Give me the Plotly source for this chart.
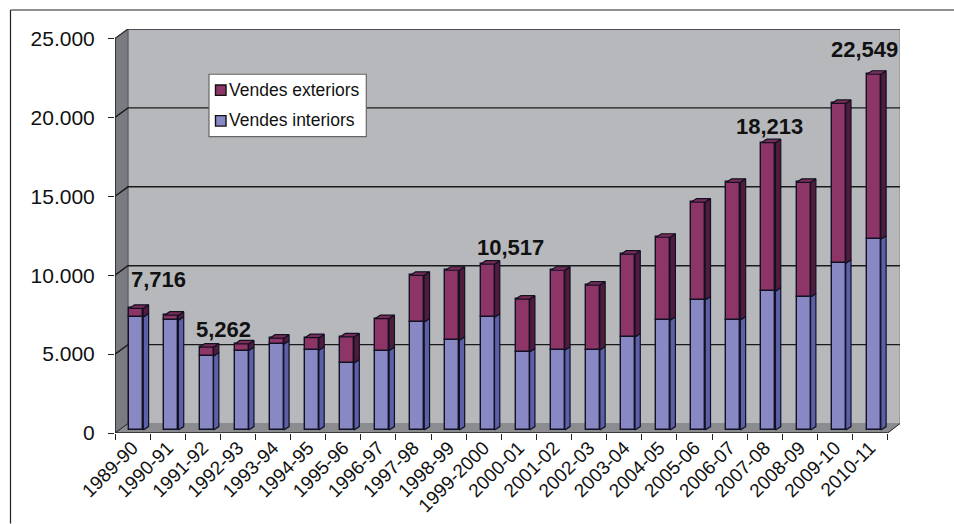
import plotly.graph_objects as go

# ---- data ----
categories = ["1989-90","1990-91","1991-92","1992-93","1993-94","1994-95","1995-96","1996-97",
              "1997-98","1998-99","1999-2000","2000-01","2001-02","2002-03","2003-04","2004-05",
              "2005-06","2006-07","2007-08","2008-09","2009-10","2010-11"]
interiors = [7160,6965,4700,5040,5445,5065,4260,5040,6850,5700,7150,4950,5065,5080,5900,6960,
             8240,6970,8800,8430,10570,12090]
totals = [7716,7280,5262,5460,5823,5860,5905,7065,9810,10130,10517,8300,10130,9190,11150,12220,
          14450,15700,18213,15700,20700,22549]
exteriors = [t - i for t, i in zip(totals, interiors)]
y_ticks = [0,5000,10000,15000,20000,25000]
y_tick_text = ["0","5.000","10.000","15.000","20.000","25.000"]
labelled = ["1989-90","1991-92","1999-2000","2007-08","2010-11"]
label_text = ["7,716","5,262","10,517","18,213","22,549"]

# ---- geometry (pixels -> axis units) ----
W, H = 954, 524
L, R, T, B = 115, 900, 29, 433.5
PX_X = 35.12            # px per category
PX_Y = 1 / 63.29        # px per unit
xmin = -0.5
xmax = xmin + (R - L) / PX_X
ymax = (B - T) / PX_Y
xlast = len(categories) - 0.5
wall_dx = 13 / PX_X
wall_dy = ymax - 25000
bar_w = 14 / PX_X
bar_shift = 0.1065
bar_base = 2.9 / PX_Y
dep_x = 5.3 / PX_X
dep_y = 3.5 / PX_Y
FONT = "Liberation Sans, Arial, sans-serif"
BLUE, BLUE_S = "#8888c4", "#5c60a8"
MAR, MAR_S, MAR_T = "#8d3566", "#511b3e", "#7a2c58"
OUT = "#111122"

xs = [i + bar_shift for i in range(len(categories))]
xr = [x + bar_w / 2 for x in xs]
xl = [x - bar_w / 2 for x in xs]


def poly(points):
    return "M" + " L".join(f"{a},{b}" for a, b in points) + " Z"


def polys(list_of_points):
    px, py = [], []
    for pts in list_of_points:
        px += [p[0] for p in pts] + [pts[0][0], None]
        py += [p[1] for p in pts] + [pts[0][1], None]
    return px, py


fig = go.Figure()
fig.add_bar(x=xs, y=interiors, base=[bar_base] * len(xs), width=bar_w, name="Vendes interiors",
            marker=dict(color=BLUE, line=dict(color=OUT, width=1.4)))
fig.add_bar(x=xs, y=exteriors, base=[bar_base + v for v in interiors], width=bar_w, name="Vendes exteriors",
            marker=dict(color=MAR, line=dict(color=OUT, width=1.4)))

faces = [
    ([[(a, bar_base), (a + dep_x, bar_base + dep_y), (a + dep_x, bar_base + v + dep_y), (a, bar_base + v)]
      for a, v in zip(xr, interiors)], BLUE_S),
    ([[(a, bar_base + v), (a + dep_x, bar_base + v + dep_y), (a + dep_x, bar_base + t + dep_y), (a, bar_base + t)]
      for a, v, t in zip(xr, interiors, totals)], MAR_S),
    ([[(a, bar_base + t), (a + bar_w, bar_base + t), (a + bar_w + dep_x, bar_base + t + dep_y), (a + dep_x, bar_base + t + dep_y)]
      for a, t in zip(xl, totals)], MAR_T),
]
for pts, col in faces:
    px, py = polys(pts)
    fig.add_scatter(x=px, y=py, mode="lines", fill="toself", fillcolor=col,
                    line=dict(color=OUT, width=1.2), hoverinfo="skip", showlegend=False)

# invisible trace that carries the label axis
fig.add_scatter(x=list(range(len(categories))), y=[0] * len(categories), xaxis="x2", mode="markers",
                marker=dict(opacity=0), hoverinfo="skip", showlegend=False)

shapes = [
    # back wall
    dict(type="path", layer="below", path=poly([(xmin + wall_dx, wall_dy), (xmax, wall_dy), (xmax, ymax), (xmin + wall_dx, ymax)]),
         fillcolor="#b7b8bc", line=dict(color="#8e8f93", width=1.2)),
    # side wall
    dict(type="path", layer="below", path=poly([(xmin, 0), (xmin + wall_dx, wall_dy), (xmin + wall_dx, ymax), (xmin, 25000)]),
         fillcolor="#7a7b80", line=dict(color="#55565a", width=1)),
    # floor
    dict(type="path", layer="below", path=poly([(xmin, 0), (xmin + wall_dx, wall_dy), (xmax, wall_dy), (xlast, 0)]),
         fillcolor="#8b8c90", line=dict(color="#8b8c90", width=0.5)),
]
for v in y_ticks[1:-1]:
    shapes.append(dict(type="path", layer="below",
                       path=f"M{xmin},{v} L{xmin + wall_dx},{v + wall_dy} L{xmax},{v + wall_dy}",
                       line=dict(color="#1a1a1a", width=1.4)))
shapes += [
    dict(type="path", layer="below", path=f"M{xmin},25000 L{xmin + wall_dx},{ymax} L{xmax},{ymax}", line=dict(color="#333", width=1.3)),
    dict(type="path", layer="below", path=f"M{xmin},0 L{xmin + wall_dx},{wall_dy}", line=dict(color="#222", width=1)),
    dict(type="line", layer="below", x0=xlast, y0=0, x1=xmax, y1=wall_dy, line=dict(color="#222", width=1)),
    dict(type="line", layer="above", x0=xmin, y0=0, x1=xmin, y1=25000, line=dict(color="#222", width=1.4)),
    dict(type="line", layer="above", x0=xmin, y0=0, x1=xlast, y1=0, line=dict(color="#222", width=1.4)),
]


def px2paper_x(p):
    return (p - L) / (R - L)


def px2paper_y(p):
    return (B - p) / (B - T)


# outer frame
shapes += [
    dict(type="line", xref="paper", yref="paper", x0=px2paper_x(10.5), x1=px2paper_x(10.5), y0=px2paper_y(10), y1=px2paper_y(524),
         line=dict(color="#222", width=1.2)),
    dict(type="line", xref="paper", yref="paper", x0=px2paper_x(10.5), x1=px2paper_x(954), y0=px2paper_y(10), y1=px2paper_y(10),
         line=dict(color="#222", width=1.2)),
]
# legend box and swatches
shapes.append(dict(type="rect", xref="paper", yref="paper", x0=px2paper_x(209), x1=px2paper_x(366.3),
                   y0=px2paper_y(136.7), y1=px2paper_y(74.3), fillcolor="white", line=dict(color="#666", width=1.2)))
for y0, col in [(85, MAR), (115.7, BLUE)]:
    shapes.append(dict(type="rect", xref="paper", yref="paper", x0=px2paper_x(215.5), x1=px2paper_x(226),
                       y0=px2paper_y(y0 + 10.5), y1=px2paper_y(y0), fillcolor=col, line=dict(color="#111", width=1.4)))

annotations = []
for txt, y in [("Vendes exteriors", 90), ("Vendes interiors", 120.5)]:
    annotations.append(dict(text=txt, xref="paper", yref="paper", x=px2paper_x(227), y=px2paper_y(y), xanchor="left",
                            yanchor="middle", showarrow=False, font=dict(family=FONT, size=17.5, color="#111")))
label_dx = [22, 16.5, 22.5, 1.5, -9]
label_dy = [29, 18, 17, 16, 25]
for cat, txt, dx, dy in zip(labelled, label_text, label_dx, label_dy):
    i = categories.index(cat)
    annotations.append(dict(text=f"<b>{txt}</b>", x=xs[i], y=bar_base + totals[i], xshift=dx, yshift=dy,
                            xanchor="center", yanchor="middle", showarrow=False,
                            font=dict(family=FONT, size=22, color="#111")))

fig.update_layout(
    width=W, height=H, autosize=False, barmode="overlay", bargap=0, showlegend=False,
    margin=dict(l=L, r=W - R, t=T, b=H - B, pad=0, autoexpand=False),
    paper_bgcolor="white", plot_bgcolor="rgba(0,0,0,0)",
    font=dict(family=FONT, color="#111"),
    shapes=shapes, annotations=annotations,
    xaxis=dict(type="linear", range=[xmin, xmax], tickmode="array", automargin=False,
               tickvals=[i - 0.5 for i in range(len(categories) + 1)], ticktext=[""] * (len(categories) + 1),
               ticks="outside", ticklen=6, tickcolor="#222", tickwidth=1.3, showgrid=False, zeroline=False, showline=False),
    xaxis2=dict(type="linear", overlaying="x", anchor="y", side="bottom", range=[xmin, xmax], tickmode="array",
                automargin=False,
                tickvals=[i + 0.0 for i in range(len(categories))], ticktext=categories, tickangle=-45, ticks="", ticklen=0,
                ticklabelstandoff=-1,
                tickfont=dict(family=FONT, size=19, color="#111"), showgrid=False, zeroline=False, showline=False),
    yaxis=dict(range=[0, ymax], tickmode="array", tickvals=y_ticks, ticktext=y_tick_text, automargin=False,
               tickfont=dict(family=FONT, size=21, color="#111"), ticks="outside", ticklen=6, tickcolor="#222",
               tickwidth=1.3, ticklabelstandoff=9, showgrid=False, zeroline=False, showline=False),
)
fig.write_html("out.html", config={"displayModeBar": False},
               post_script="document.body.style.margin='0';document.body.style.overflow='hidden';")
